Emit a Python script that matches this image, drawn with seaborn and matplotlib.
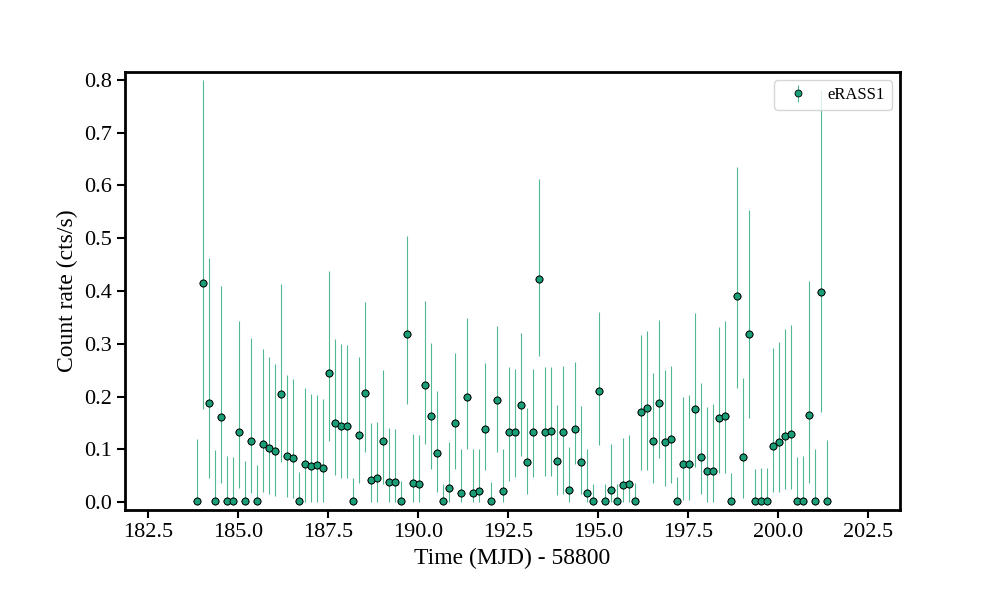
import numpy as np
import pandas as pd
import matplotlib
matplotlib.use("Agg")
import matplotlib.pyplot as plt
import seaborn as sns

time = [183.86, 184.03, 184.19, 184.36, 184.53, 184.69, 184.86, 185.03, 185.19, 185.36,
        185.53, 185.69, 185.86, 186.03, 186.19, 186.36, 186.53, 186.69, 186.86, 187.03,
        187.19, 187.36, 187.53, 187.69, 187.86, 188.03, 188.19, 188.36, 188.53, 188.69,
        188.86, 189.03, 189.19, 189.36, 189.53, 189.69, 189.86, 190.03, 190.19, 190.36,
        190.53, 190.69, 190.86, 191.03, 191.19, 191.36, 191.53, 191.69, 191.86, 192.03,
        192.19, 192.36, 192.53, 192.69, 192.86, 193.03, 193.19, 193.36, 193.53, 193.69,
        193.86, 194.03, 194.19, 194.36, 194.53, 194.69, 194.86, 195.03, 195.19, 195.36,
        195.53, 195.69, 195.86, 196.03, 196.19, 196.36, 196.53, 196.69, 196.86, 197.03,
        197.19, 197.36, 197.53, 197.69, 197.86, 198.03, 198.19, 198.36, 198.53, 198.69,
        198.86, 199.03, 199.19, 199.36, 199.53, 199.69, 199.86, 200.03, 200.19, 200.36,
        200.53, 200.69, 200.86, 201.03, 201.19, 201.36]

rate = [0.003, 0.415, 0.187, 0.003, 0.161, 0.003, 0.003, 0.132, 0.003, 0.116,
        0.003, 0.110, 0.103, 0.097, 0.205, 0.087, 0.083, 0.003, 0.072, 0.068,
        0.070, 0.064, 0.245, 0.150, 0.144, 0.144, 0.003, 0.127, 0.206, 0.042,
        0.045, 0.116, 0.038, 0.038, 0.003, 0.318, 0.036, 0.034, 0.222, 0.163,
        0.093, 0.003, 0.027, 0.150, 0.017, 0.200, 0.017, 0.021, 0.138, 0.003,
        0.193, 0.021, 0.133, 0.132, 0.184, 0.076, 0.132, 0.423, 0.133, 0.135,
        0.078, 0.133, 0.023, 0.138, 0.076, 0.017, 0.003, 0.210, 0.003, 0.023,
        0.003, 0.032, 0.034, 0.003, 0.171, 0.178, 0.116, 0.188, 0.114, 0.120,
        0.003, 0.072, 0.072, 0.176, 0.086, 0.059, 0.059, 0.160, 0.163, 0.003,
        0.390, 0.086, 0.318, 0.003, 0.003, 0.003, 0.106, 0.114, 0.125, 0.129,
        0.003, 0.003, 0.165, 0.003, 0.398, 0.003]

rate_hi = [0.120, 0.800, 0.462, 0.098, 0.410, 0.088, 0.085, 0.343, 0.078, 0.310,
           0.070, 0.290, 0.275, 0.262, 0.413, 0.240, 0.233, 0.057, 0.216, 0.205,
           0.203, 0.195, 0.437, 0.309, 0.300, 0.298, 0.045, 0.274, 0.380, 0.150,
           0.152, 0.250, 0.140, 0.139, 0.040, 0.504, 0.129, 0.128, 0.381, 0.301,
           0.210, 0.035, 0.114, 0.282, 0.100, 0.349, 0.100, 0.101, 0.264, 0.038,
           0.334, 0.100, 0.256, 0.252, 0.320, 0.178, 0.252, 0.612, 0.256, 0.256,
           0.184, 0.258, 0.105, 0.265, 0.182, 0.100, 0.034, 0.360, 0.035, 0.110,
           0.035, 0.121, 0.127, 0.037, 0.316, 0.324, 0.245, 0.345, 0.250, 0.258,
           0.047, 0.200, 0.202, 0.358, 0.226, 0.180, 0.186, 0.332, 0.343, 0.055,
           0.635, 0.235, 0.553, 0.063, 0.064, 0.065, 0.292, 0.303, 0.328, 0.336,
           0.085, 0.088, 0.419, 0.100, 0.780, 0.117]

rate_lo = [0.0, 0.176, 0.045, 0.0, 0.036, 0.0, 0.0, 0.027, 0.0, 0.018,
           0.0, 0.020, 0.015, 0.012, 0.076, 0.010, 0.008, 0.0, 0.0, 0.0,
           0.0, 0.0, 0.116, 0.051, 0.045, 0.045, 0.0, 0.036, 0.094, 0.0,
           0.0, 0.034, 0.0, 0.0, 0.0, 0.186, 0.0, 0.0, 0.110, 0.063,
           0.020, 0.0, 0.0, 0.063, 0.0, 0.100, 0.0, 0.0, 0.060, 0.0,
           0.094, 0.0, 0.040, 0.048, 0.087, 0.015, 0.048, 0.277, 0.050, 0.050,
           0.014, 0.015, 0.0, 0.072, 0.015, 0.0, 0.0, 0.108, 0.0, 0.0,
           0.0, 0.0, 0.0, 0.0, 0.060, 0.060, 0.036, 0.083, 0.030, 0.036,
           0.0, 0.004, 0.004, 0.066, 0.015, 0.0, 0.0, 0.055, 0.055, 0.0,
           0.216, 0.008, 0.160, 0.0, 0.0, 0.0, 0.020, 0.020, 0.025, 0.025,
           0.0, 0.0, 0.036, 0.0, 0.170, 0.0]

df = pd.DataFrame({"t": time, "r": rate, "hi": rate_hi, "lo": rate_lo})

plt.rcParams["font.family"] = "Liberation Serif"
fig = plt.figure(figsize=(10, 6), dpi=100)
ax = fig.add_axes([0.125, 0.15, 0.775, 0.73])

yerr = np.vstack([df["r"] - df["lo"], df["hi"] - df["r"]])
ax.errorbar(df["t"], df["r"], yerr=yerr, fmt="o", color="#52b890", ecolor="#52b890",
            elinewidth=0.8, markersize=5, markerfacecolor="#1b9e77",
            markeredgecolor="black", markeredgewidth=0.6, label="eRASS1", zorder=2)
sns.scatterplot(data=df, x="t", y="r", ax=ax, s=25, color="#1b9e77",
                edgecolor="black", linewidth=0.6, zorder=3, legend=False)

ax.set_xlim(181.85, 203.38)
ax.set_ylim(-0.015, 0.815)
ax.set_xticks([182.5, 185.0, 187.5, 190.0, 192.5, 195.0, 197.5, 200.0, 202.5])
ax.set_xlabel("Time (MJD) - 58800", fontsize=17)
ax.set_ylabel("Count rate (cts/s)", fontsize=17)
ax.tick_params(labelsize=16, length=6, width=1.5, direction="out")
for s in ax.spines.values():
    s.set_linewidth(2)
ax.legend(loc="upper right", fontsize=12)
fig.savefig("out.png", dpi=100)
